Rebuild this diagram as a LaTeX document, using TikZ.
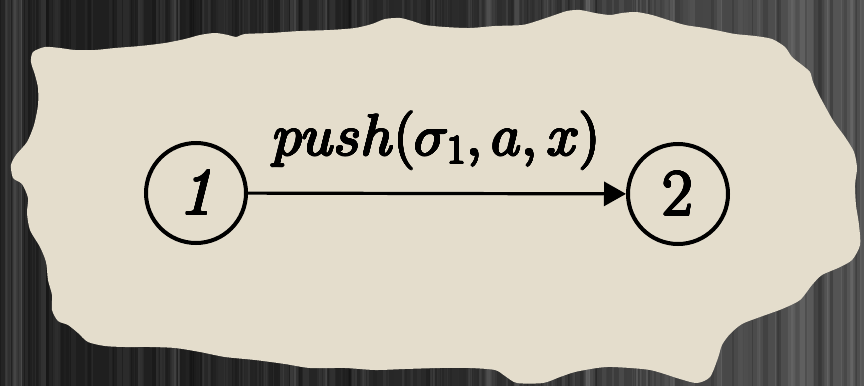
\RequirePackage{fix-cm}
\documentclass[tikz,border=0pt]{standalone}
\usepackage{amsmath}
\usepackage{contour}
\usetikzlibrary{arrows.meta}
\definecolor{paper}{HTML}{E4DDCC}
\contourlength{0.5pt}
\contournumber{24}
\tikzset{
  stnode/.style={draw=black,line width=2pt,circle,minimum size=50pt,inner sep=0pt,font=\fontsize{33}{36}\selectfont},
  conn/.style={line width=1.6pt,-{Triangle[length=11pt,width=12pt]}},
  lbltext/.style={font=\fontsize{29}{31}\selectfont,inner sep=0pt,anchor=base}
}
\newcommand{\edgelabel}{\contour{black}{$push(\sigma_1,a,x)$}}
\begin{document}
\begin{tikzpicture}[x=0.5pt,y=-0.5pt]
\useasboundingbox (0,0) rectangle (864,386);
\shade[left color=black!89,right color=black!66,middle color=black!84] (0,0) rectangle (864,386);
\pgfmathsetseed{11}
\foreach \i in {1,...,200}{
  \pgfmathsetmacro\myx{rnd*864}
  \pgfmathsetmacro\myw{1.5+rnd*5}
  \pgfmathsetmacro\myo{0.02+rnd*0.05}
  \fill[white,opacity=\myo] (\myx,0) rectangle ++(\myw,386);
}
\foreach \i in {1,...,120}{
  \pgfmathsetmacro\myx{rnd*864}
  \pgfmathsetmacro\myw{1.5+rnd*5}
  \pgfmathsetmacro\myo{0.05+rnd*0.15}
  \fill[black,opacity=\myo] (\myx,0) rectangle ++(\myw,386);
}
\fill[paper] plot[smooth cycle,tension=0.45] coordinates {
(33,52) (45,47) (60,48) (75,50) (95,50) (115,48) (140,46) (165,43) (185,39) (200,35)
(215,33) (228,35) (236,37) (245,34) (270,33) (300,31) (330,30) (355,28) (372,24) (385,19)
(400,18) (412,21) (425,25) (445,27) (470,28) (495,26) (522,25) (537,21) (552,16) (567,11)
(580,10) (595,13) (610,15) (622,13) (636,12) (652,15) (668,20) (685,25) (705,28) (720,31)
(735,34) (755,36) (772,39) (785,47) (792,57) (802,65) (810,72) (813,82) (818,93) (826,108)
(834,122) (845,137) (854,152) (857,168) (855,185) (856,205) (859,225) (860,245) (852,260) (838,268)
(822,275) (812,285) (800,300) (782,309) (760,317) (742,324) (730,334) (722,345) (718,358) (710,377)
(697,383) (680,379) (650,370) (613,367) (597,368) (575,372) (560,377) (543,383) (517,383) (505,376)
(495,370) (470,368) (440,368) (405,369) (375,370) (345,368) (310,368) (285,364) (255,360) (225,357)
(200,352) (175,348) (150,347) (125,347) (105,346) (88,342) (78,333) (68,325) (58,321) (52,310)
(52,295) (48,280) (46,262) (40,247) (30,230) (27,213) (28,198) (22,184) (13,178) (11,165)
(16,155) (27,142) (34,125) (38,105) (38,88) (35,75) (31,62)};
\node[stnode] (n1) at (196,193) {\contour{black}{\textit{1}}};
\node[stnode] (n2) at (678,194) {\contour{black}{2}};
\draw[conn] (n1) -- (n2);
\node[lbltext] (lab) at (437,155) {\edgelabel};
\end{tikzpicture}
\end{document}
